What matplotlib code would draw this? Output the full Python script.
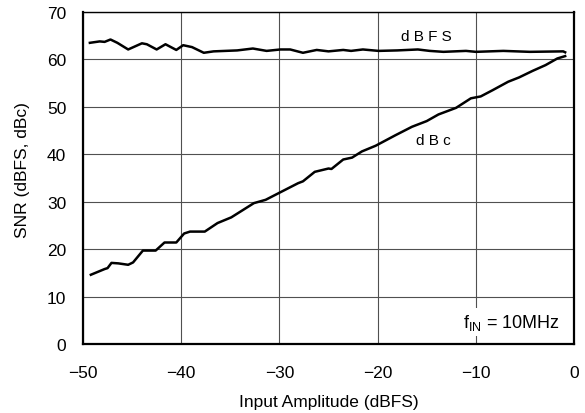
import matplotlib
matplotlib.use("Agg")
import matplotlib.pyplot as plt

plt.rcParams['font.family'] = ['Liberation Sans', 'DejaVu Sans']
plt.rcParams['mathtext.fontset'] = 'custom'
plt.rcParams['mathtext.rm'] = 'Liberation Sans'
plt.rcParams['mathtext.it'] = 'Liberation Sans'

# dBFS curve
dbfs_x = [-49.3, -48.3, -47.8, -47.2, -46.5, -45.4, -44.0, -43.5, -42.5, -41.6, -40.5, -39.8,
          -38.9, -37.7, -36.7, -34.3, -32.7, -31.3, -29.9, -28.9, -27.6, -26.2, -25.0, -23.5,
          -22.7, -21.5, -19.9, -18.0, -15.9, -14.7, -13.3, -11.0, -10.0, -7.2, -4.5, -1.1, -0.9]
dbfs_y = [63.5, 63.8, 63.7, 64.2, 63.5, 62.1, 63.4, 63.2, 62.1, 63.2, 62.0, 63.0,
          62.6, 61.4, 61.7, 61.9, 62.3, 61.8, 62.1, 62.1, 61.4, 62.0, 61.7, 62.0,
          61.8, 62.1, 61.8, 61.9, 62.1, 61.8, 61.6, 61.8, 61.6, 61.8, 61.6, 61.7, 61.5]

# dBc curve
dbc_x = [-49.2, -47.8, -47.5, -47.1, -46.4, -45.4, -44.9, -43.9, -42.6, -41.7, -40.5, -39.7,
         -39.1, -37.6, -36.3, -34.9, -32.6, -31.4, -29.8, -28.1, -27.6, -26.4, -25.0, -24.7,
         -23.5, -22.6, -21.6, -20.2, -18.2, -16.5, -15.0, -13.8, -12.0, -10.5, -9.5, -8.3,
         -6.7, -5.6, -4.2, -2.9, -1.7, -0.9]
dbc_y = [14.6, 15.8, 16.0, 17.1, 17.0, 16.7, 17.2, 19.7, 19.7, 21.4, 21.4, 23.3,
         23.7, 23.7, 25.5, 26.7, 29.7, 30.4, 32.1, 33.9, 34.3, 36.3, 37.0, 36.9,
         38.9, 39.3, 40.6, 41.8, 44.0, 45.8, 47.0, 48.4, 49.8, 51.8, 52.2, 53.5,
         55.3, 56.2, 57.6, 58.8, 60.2, 60.7]

x_ticks = [-50, -40, -30, -20, -10, 0]
y_ticks = [0, 10, 20, 30, 40, 50, 60, 70]

fig = plt.figure(figsize=(5.85, 4.14), dpi=100)
ax = fig.add_axes([83/585, 1 - 345/414, (574 - 83)/585, (345 - 13)/414])

ax.plot(dbfs_x, dbfs_y, color='black', lw=1.8, solid_joinstyle='round', zorder=3)
ax.plot(dbc_x, dbc_y, color='black', lw=1.8, solid_joinstyle='round', zorder=3)

ax.set_xlim(-50, 0)
ax.set_ylim(0, 70)
ax.set_xticks(x_ticks)
ax.set_yticks(y_ticks)
ax.set_xticklabels([f"\u2212{abs(v)}" if v < 0 else str(v) for v in x_ticks])
ax.tick_params(length=0, labelsize=12.5)
ax.tick_params(axis='x', pad=15)
ax.tick_params(axis='y', pad=12)
ax.grid(True, color='#505050', lw=0.8)
ax.set_axisbelow(True)

for s in ['left', 'bottom', 'right']:
    ax.spines[s].set_linewidth(1.6)
ax.spines['top'].set_linewidth(1.0)

ax.set_xlabel('Input Amplitude (dBFS)', fontsize=12.5, labelpad=10)
ax.set_ylabel('SNR (dBFS, dBc)', fontsize=12.5)
ax.yaxis.set_label_coords(-0.108, 0.527)

ax.text(-15.0, 64.9, 'd B F S', fontsize=11, ha='center', va='center', zorder=4)
ax.text(-14.3, 43.0, 'd B c', fontsize=11, ha='center', va='center', zorder=4)
ax.text(-1.4, 4.6, r'f$_{\rm IN}$ = 10MHz', fontsize=13, ha='right', va='center', zorder=4,
        bbox=dict(facecolor='white', edgecolor='none', pad=3))

fig.savefig('out.png', dpi=100)
